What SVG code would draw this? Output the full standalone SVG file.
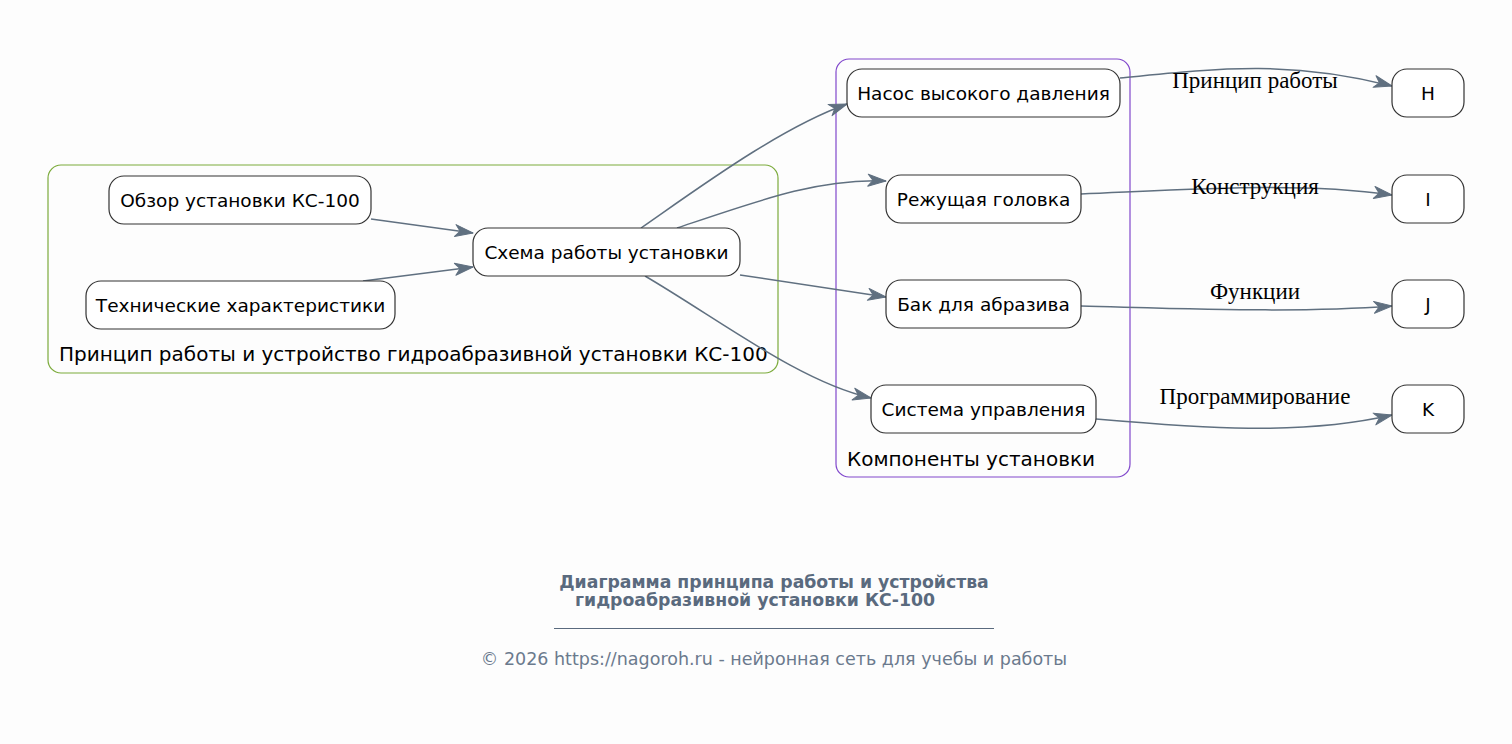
<svg xmlns="http://www.w3.org/2000/svg" width="1512" height="744" viewBox="0 0 1512 744">
<defs>
<style>
.node rect{fill:#ffffff;stroke:#333333;stroke-width:1.2}
.node text{font-family:"DejaVu Sans",sans-serif;font-size:18.5px;fill:#000;text-anchor:middle;dominant-baseline:central}
.cl{font-family:"DejaVu Sans",sans-serif;font-size:20px;fill:#000}
.edge{fill:none;stroke:#607080;stroke-width:1.5;marker-end:url(#arr)}
.el{font-family:"Liberation Serif",serif;font-size:23px;fill:#000;text-anchor:middle}
</style>
<marker id="arr" viewBox="0 0 20 14" refX="19" refY="7" markerWidth="20" markerHeight="14" markerUnits="userSpaceOnUse" orient="auto">
<path d="M1,1 L19,7 L1,13 L6,7 Z" fill="#607080" stroke="#607080" stroke-width="1" stroke-linejoin="round"/>
</marker>
</defs>
<rect width="1512" height="744" fill="#fdfdfd"/>
<g id="cluster-main">
<rect x="48" y="165" width="730" height="208" rx="13" fill="none" stroke="#7cab3c" stroke-width="1.2"/>
<text class="cl" x="59" y="361">Принцип работы и устройство гидроабразивной установки КС-100</text>
</g>
<g id="cluster-components">
<rect x="836" y="59" width="294" height="418" rx="13" fill="none" stroke="#8148cc" stroke-width="1.2"/>
<text class="cl" x="847" y="466">Компоненты установки</text>
</g>
<g id="edges">
<path class="edge" d="M371,219 L473,233"/>
<path class="edge" d="M363,281 L473,267"/>
<path class="edge" d="M641,228 C700,187 780,128 847,104"/>
<path class="edge" d="M677,228 C760,200 820,178 886,181"/>
<path class="edge" d="M740,275 L886,297"/>
<path class="edge" d="M645,276 C720,320 800,382 871,398"/>
<path class="edge" d="M1120,78 C1220,68 1290,60 1392,86"/>
<path class="edge" d="M1081,194 C1200,189 1300,182 1392,195"/>
<path class="edge" d="M1081,306 C1200,309 1300,313 1392,306"/>
<path class="edge" d="M1096,419 C1200,428 1300,436 1392,415"/>
<text class="el" x="1255" y="88">Принцип работы</text>
<text class="el" x="1255" y="194">Конструкция</text>
<text class="el" x="1255" y="299">Функции</text>
<text class="el" x="1255" y="404">Программирование</text>
</g>
<g id="n-obzor" class="node"><rect x="109" y="176" width="262" height="48" rx="15"/><text x="240" y="200">Обзор установки КС-100</text></g>
<g id="n-tech" class="node"><rect x="86" y="281" width="309" height="48" rx="15"/><text x="240.5" y="305">Технические характеристики</text></g>
<g id="n-schema" class="node"><rect x="473" y="228" width="267" height="48" rx="15"/><text x="606.5" y="252">Схема работы установки</text></g>
<g id="n-nasos" class="node"><rect x="847" y="69" width="273" height="48" rx="15"/><text x="983.5" y="93">Насос высокого давления</text></g>
<g id="n-head" class="node"><rect x="886" y="175" width="195" height="48" rx="15"/><text x="983.5" y="199">Режущая головка</text></g>
<g id="n-bak" class="node"><rect x="886" y="280" width="195" height="48" rx="15"/><text x="983.5" y="304">Бак для абразива</text></g>
<g id="n-sys" class="node"><rect x="871" y="385" width="225" height="48" rx="15"/><text x="983.5" y="409">Система управления</text></g>
<g id="n-H" class="node"><rect x="1392" y="69" width="72" height="48" rx="15"/><text x="1428" y="93">H</text></g>
<g id="n-I" class="node"><rect x="1392" y="175" width="72" height="48" rx="15"/><text x="1428" y="199">I</text></g>
<g id="n-J" class="node"><rect x="1392" y="280" width="72" height="48" rx="15"/><text x="1428" y="304">J</text></g>
<g id="n-K" class="node"><rect x="1392" y="385" width="72" height="48" rx="15"/><text x="1428" y="409">K</text></g>
<g id="title">
<text x="774" y="588" font-family="DejaVu Sans,sans-serif" font-size="17.3" font-weight="bold" fill="#5a6a7e" text-anchor="middle">Диаграмма принципа работы и устройства</text>
<text x="755" y="606" font-family="DejaVu Sans,sans-serif" font-size="17.3" font-weight="bold" fill="#5a6a7e" text-anchor="middle">гидроабразивной установки КС-100</text>
<line x1="554" y1="628.5" x2="994" y2="628.5" stroke="#5a6a7e" stroke-width="1"/>
<text x="774" y="665" font-family="DejaVu Sans,sans-serif" font-size="17.5" fill="#6b7a8d" text-anchor="middle">© 2026 https://nagoroh.ru - нейронная сеть для учебы и работы</text>
</g>
</svg>
